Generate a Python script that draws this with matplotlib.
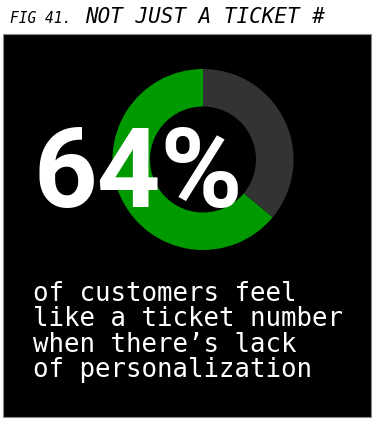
# Donut stat card: share of customers who feel like a ticket number
import matplotlib
matplotlib.use('Agg')
from matplotlib import pyplot
from matplotlib.patches import Rectangle

# Data #
segments = ['feel like a ticket number', 'rest']
shares = [64, 36]
seg_colors = ['#009900', '#333333']
fig_label = 'FIG 41.'
title = 'NOT JUST A TICKET #'
caption = ['of customers feel',
           'like a ticket number',
           "when there\u2019s lack",
           'of personalization']

# Canvas in pixel units, y pointing up #
W, H = 374, 421
fig = pyplot.figure(figsize=(W / 100, H / 100), dpi=100, facecolor='white')
axes = fig.add_axes([0, 0, 1, 1])

# Black card #
axes.add_patch(Rectangle((3, H - 417), 368, 383, facecolor='black',
                         edgecolor='#8a8a8a', linewidth=0.8, zorder=0))

# Donut #
axes.pie(shares, colors=seg_colors, startangle=90, counterclock=True,
         center=(203, H - 159.5), radius=90.5,
         wedgeprops=dict(width=37.5, linewidth=0))

# Headline number #
axes.text(34, H - 207, '%d%%' % shares[0], color='white', fontsize=80,
          fontweight='bold', family='Roboto',
          ha='left', va='baseline', zorder=5)

# Title #
axes.text(10, H - 23, fig_label, color='black', fontsize=10.5,
          family='DejaVu Sans Mono', style='italic', ha='left', va='baseline')
axes.text(85, H - 23, title, color='black', fontsize=15,
          family='DejaVu Sans Mono', style='italic', ha='left', va='baseline')

# Caption #
for i, line in enumerate(caption):
    axes.text(33, H - 301 - i * 25.3, line, color='white', fontsize=18.5,
              family='DejaVu Sans Mono', ha='left', va='baseline', zorder=5)

axes.set_xlim(0, W)
axes.set_ylim(0, H)
axes.set_aspect('auto')
axes.axis('off')

fig.savefig('out.png', dpi=100, facecolor='white')
pyplot.close(fig)
